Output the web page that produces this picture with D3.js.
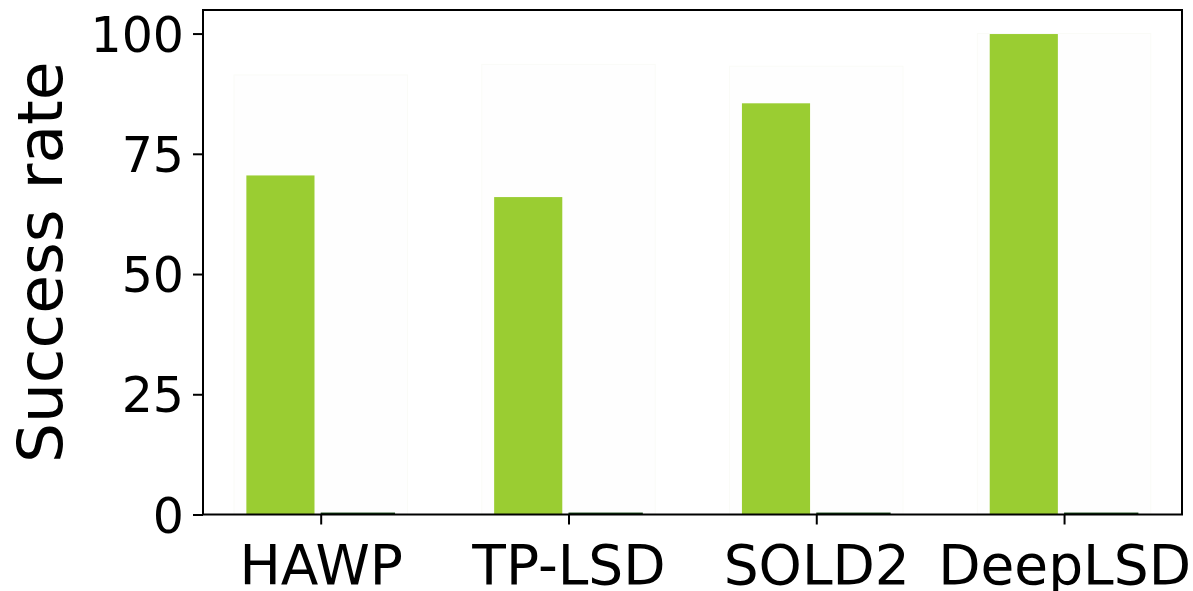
<!DOCTYPE html>
<html>
<head>
<meta charset="utf-8">
<script src="https://cdn.jsdelivr.net/npm/d3@7"></script>
<style>
  body { margin: 0; background: #fff; }
  svg { display: block; font-family: "DejaVu Sans", sans-serif; }
</style>
</head>
<body>
<svg id="chart" width="1193" height="591"></svg>
<script>
// data
var methods = ["HAWP", "TP-LSD", "SOLD2", "DeepLSD"];
var successRate = [70.5, 66.0, 85.5, 99.9];
var backRate = [91.4, 93.6, 93.2, 100.0];   // near-invisible wide bars
var failRate = [0.4, 0.4, 0.4, 0.4];        // thin dark bars at the baseline
var yTicks = [0, 25, 50, 75, 100];

var svg = d3.select('#chart');
var m = { left: 203, right: 1182, top: 10, bottom: 514.5 };

var x = d3.scaleLinear().domain([-0.475, 3.476]).range([m.left, m.right]);
var y = d3.scaleLinear().domain([0, 104.9]).range([m.bottom, m.top]);
var unit = x(1) - x(0);

var plot = svg.append('g');

// faint background bars
plot.selectAll('rect.back')
    .data(backRate)
    .enter()
    .append('rect')
    .attr('class', 'back')
    .attr('x', function (d, i) { return x(i - 0.35); })
    .attr('width', 0.7 * unit)
    .attr('y', function (d) { return y(d); })
    .attr('height', function (d) { return y(0) - y(d); })
    .attr('fill', '#fefefe')
    .attr('stroke', '#fafbf7')
    .attr('stroke-width', 1);

// green success bars
plot.selectAll('rect.succ')
    .data(successRate)
    .enter()
    .append('rect')
    .attr('class', 'succ')
    .attr('x', function (d, i) { return x(i - 0.3); })
    .attr('width', 0.275 * unit)
    .attr('y', function (d) { return y(d); })
    .attr('height', function (d) { return y(0) - y(d); })
    .attr('fill', '#9acd32');

// dark thin bars
plot.selectAll('rect.fail')
    .data(failRate)
    .enter()
    .append('rect')
    .attr('class', 'fail')
    .attr('x', function (d, i) { return x(i); })
    .attr('width', 0.3 * unit)
    .attr('y', function (d) { return y(d); })
    .attr('height', function (d) { return y(0) - y(d); })
    .attr('fill', '#0b3a0b');

// axes
var yAxis = d3.axisLeft(y).tickValues(yTicks).tickSize(10).tickPadding(9);
var xAxis = d3.axisBottom(x).tickValues(d3.range(methods.length))
    .tickFormat(function (d) { return methods[d]; })
    .tickSize(10);

var gy = svg.append('g').attr('transform', 'translate(' + m.left + ',0)').call(yAxis);
var gx = svg.append('g').attr('transform', 'translate(0,' + m.bottom + ')').call(xAxis);

[gy, gx].forEach(function (g) {
    g.select('.domain').remove();
    g.selectAll('.tick line').attr('stroke', '#000').attr('stroke-width', 2);
    g.selectAll('.tick text').attr('fill', '#000')
        .style('font-family', '"DejaVu Sans", sans-serif');
});
gy.selectAll('.tick text').style('font-size', '49px').attr('dy', '0.36em');
gx.selectAll('.tick text').style('font-size', '55px').attr('y', 69).attr('dy', 0);

// frame
svg.append('rect')
    .attr('x', m.left).attr('y', m.top)
    .attr('width', m.right - m.left).attr('height', m.bottom - m.top)
    .attr('fill', 'none').attr('stroke', '#000').attr('stroke-width', 2);

// y label
svg.append('text')
    .attr('transform', 'translate(62,' + ((m.top + m.bottom) / 2) + ') rotate(-90)')
    .attr('text-anchor', 'middle')
    .style('font-size', '63px')
    .attr('fill', '#000')
    .text('Success rate');
</script>
</body>
</html>
